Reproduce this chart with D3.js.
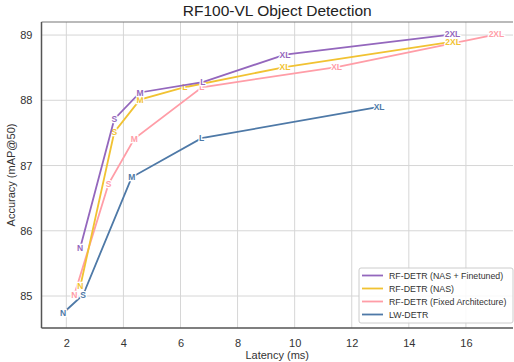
<!DOCTYPE html>
<html>
<head>
<meta charset="utf-8">
<script src="https://cdn.jsdelivr.net/npm/d3@7"></script>
<style>
  body { margin: 0; background: #fff; }
  text { font-family: "Liberation Sans", Arial, sans-serif; }
</style>
</head>
<body>
<div id="chart-area"></div>
<script>
// model sizes and values
var sizes = ["N", "S", "M", "L", "XL", "2XL"];
var nasFtLatency = [2.48, 3.68, 4.58, 6.78, 9.66, 15.53];
var nasFtMap = [85.73, 87.71, 88.12, 88.28, 88.70, 89.01];
var nasLatency = [2.49, 3.68, 4.58, 6.15, 9.66, 15.55];
var nasMap = [85.15, 87.51, 88.01, 88.20, 88.51, 88.90];
var fixedLatency = [2.28, 3.48, 4.38, 6.75, 11.47, 17.07];
var fixedMap = [85.02, 86.72, 87.41, 88.20, 88.51, 89.01];
var lwLatency = [1.89, 2.59, 4.29, 6.74, 12.96];
var lwMap = [84.74, 85.02, 86.82, 87.42, 87.90];
var seriesNames = ["LW-DETR", "RF-DETR (Fixed Architecture)", "RF-DETR (NAS)", "RF-DETR (NAS + Finetuned)"];
var seriesColors = ["#4e79a7", "#ff9da7", "#f1c232", "#9467bd"];
var xTicks = [2, 4, 6, 8, 10, 12, 14, 16];
var yTicks = [85, 86, 87, 88, 89];

var W = 514, H = 362;
var margin = { left: 41.5, right: 1, top: 22, bottom: 34 };
var width = W - margin.left - margin.right,
    height = H - margin.top - margin.bottom;

var svg = d3.select("#chart-area").append("svg")
    .attr("width", W).attr("height", H);
var g = svg.append("g")
    .attr("transform", "translate(" + margin.left + "," + margin.top + ")");

var x = d3.scaleLinear().domain([1.13, 17.65]).range([0, width]);
var y = d3.scaleLinear().domain([84.51, 89.2]).range([height, 0]);

// grid
g.append("g").selectAll("line").data(xTicks).enter().append("line")
    .attr("x1", d => x(d)).attr("x2", d => x(d))
    .attr("y1", 0).attr("y2", height)
    .attr("stroke", "#d6d6d6").attr("stroke-width", 1);
g.append("g").selectAll("line").data(yTicks).enter().append("line")
    .attr("x1", 0).attr("x2", width)
    .attr("y1", d => y(d)).attr("y2", d => y(d))
    .attr("stroke", "#d6d6d6").attr("stroke-width", 1);

// axes
var xAxis = g.append("g")
    .attr("transform", "translate(0," + height + ")")
    .call(d3.axisBottom(x).tickValues(xTicks).tickFormat(d3.format("d")).tickSize(0).tickPadding(11));
var yAxis = g.append("g")
    .call(d3.axisLeft(y).tickValues(yTicks).tickFormat(d3.format("d")).tickSize(0).tickPadding(9));
[xAxis, yAxis].forEach(a => {
  a.select(".domain").remove();
  a.selectAll("text").attr("font-size", "11px").attr("fill", "#333")
    .style("font-family", "Liberation Sans, Arial, sans-serif");
});

// spines
g.append("line").attr("x1", 0).attr("x2", width).attr("y1", 0).attr("y2", 0)
    .attr("stroke", "#777").attr("stroke-width", 1.2);
g.append("line").attr("x1", 0).attr("x2", 0).attr("y1", 0).attr("y2", height)
    .attr("stroke", "#555").attr("stroke-width", 1.5);
g.append("line").attr("x1", 0).attr("x2", width).attr("y1", height).attr("y2", height)
    .attr("stroke", "#555").attr("stroke-width", 1.5);

// series
var lats = [lwLatency, fixedLatency, nasLatency, nasFtLatency];
var maps = [lwMap, fixedMap, nasMap, nasFtMap];
var line = d3.line().x(d => x(d.lat)).y(d => y(d.map));

seriesNames.forEach(function(name, i) {
  var pts = lats[i].map((v, j) => ({ lat: v, map: maps[i][j], size: sizes[j] }));
  g.append("path")
      .attr("d", line(pts))
      .attr("fill", "none")
      .attr("stroke", seriesColors[i])
      .attr("stroke-width", 1.8);
  g.append("g").selectAll("text").data(pts).enter().append("text")
      .attr("x", d => x(d.lat)).attr("y", d => y(d.map))
      .attr("dy", "0.36em")
      .attr("text-anchor", "middle")
      .attr("font-size", "8.5px")
      .attr("font-weight", "bold")
      .attr("fill", seriesColors[i])
      .attr("stroke", "#fff").attr("stroke-width", 2.5)
      .attr("paint-order", "stroke")
      .text(d => d.size);
});

// legend
var legend = svg.append("g").attr("transform", "translate(359,268)");
legend.append("rect")
    .attr("width", 154).attr("height", 55).attr("rx", 2)
    .attr("fill", "#fff").attr("fill-opacity", 0.85)
    .attr("stroke", "#ccc");
var legendOrder = [3, 2, 1, 0];
legendOrder.forEach(function(k, i) {
  var row = legend.append("g").attr("transform", "translate(0," + (7.5 + i * 13) + ")");
  row.append("line").attr("x1", 3).attr("x2", 24)
      .attr("stroke", seriesColors[k]).attr("stroke-width", 1.8);
  row.append("text").attr("x", 30).attr("dy", "0.35em")
      .attr("font-size", "8.8px").attr("fill", "#333")
      .text(seriesNames[k]);
});

// titles
svg.append("text")
    .attr("x", margin.left + width / 2).attr("y", 16)
    .attr("text-anchor", "middle")
    .attr("font-size", "15.5px").attr("fill", "#222")
    .text("RF100-VL Object Detection");
svg.append("text")
    .attr("x", margin.left + width / 2).attr("y", 359)
    .attr("text-anchor", "middle")
    .attr("font-size", "11px").attr("fill", "#333")
    .text("Latency (ms)");
svg.append("text")
    .attr("transform", "rotate(-90)")
    .attr("x", -(margin.top + height / 2)).attr("y", 15)
    .attr("text-anchor", "middle")
    .attr("font-size", "11px").attr("fill", "#333")
    .text("Accuracy (mAP@50)");
</script>
</body>
</html>
